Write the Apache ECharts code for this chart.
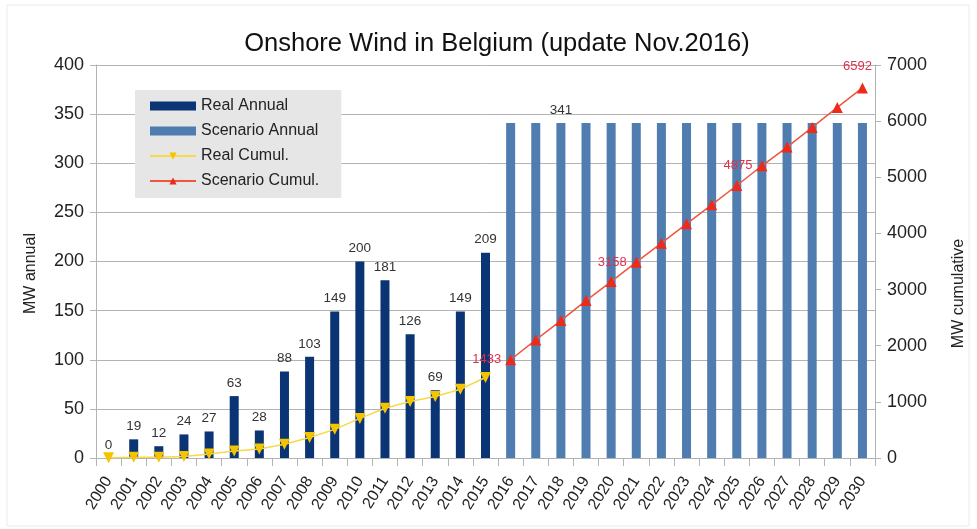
<!DOCTYPE html>
<html>
<head>
<meta charset="utf-8">
<script src="https://cdn.jsdelivr.net/npm/echarts@6/dist/echarts.min.js"></script>
<style>
  html, body { margin: 0; padding: 0; background: #fff; }
  #chart { width: 977px; height: 529px; }
</style>
</head>
<body>
<div id="chart"></div>
<script>
// years 2000..2030
var years = ['2000','2001','2002','2003','2004','2005','2006','2007','2008','2009','2010',
  '2011','2012','2013','2014','2015','2016','2017','2018','2019','2020',
  '2021','2022','2023','2024','2025','2026','2027','2028','2029','2030'];

// MW installed per year (left axis)
var realAnnual = [0, 19, 12, 24, 27, 63, 28, 88, 103, 149, 200, 181, 126, 69, 149, 209];
var scenarioAnnual = [341, 341, 341, 341, 341, 341, 341, 341, 341, 341, 341, 341, 341, 341, 341];

// MW cumulative (right axis)
var realCumul = [5, 12, 15, 25, 70, 125, 160, 245, 365, 510, 705, 885, 1005, 1095, 1225, 1433];
var scenarioCumul = [1750, 2103, 2447, 2804, 3143, 3488, 3827, 4171, 4510, 4854, 5205, 5538, 5888, 6244, 6592];

// data labels as printed in the picture
var scenarioLabelText = { '2016': '1433', '2021': '3158', '2026': '4875', '2030': '6592' };
var scenarioAnnualLabelYear = '2018';

var leftTicks = { min: 0, max: 400, step: 50 };
var rightTicks = { min: 0, max: 7000, step: 1000 };

function pad(arr, before, total) {
  var out = [];
  for (var i = 0; i < total; i++) {
    var j = i - before;
    out.push(j >= 0 && j < arr.length ? arr[j] : null);
  }
  return out;
}

var n = years.length;
var realAnnualData = pad(realAnnual, 0, n);
var scenAnnualData = pad(scenarioAnnual, 16, n);
var realCumulData = pad(realCumul, 0, n);
var scenCumulData = pad(scenarioCumul, 16, n).map(function (v, i) {
  if (v === null) return null;
  var txt = scenarioLabelText[years[i]];
  if (!txt) return v;
  return {
    value: v,
    label: {
      show: true,
      formatter: txt,
      position: years[i] === '2030' ? [-14, -22] : 'left',
      distance: 4
    }
  };
});

var font = 'Liberation Sans, Arial, sans-serif';
var chart = echarts.init(document.getElementById('chart'));

chart.setOption({
  backgroundColor: '#fff',
  animation: false,
  title: {
    text: 'Onshore Wind in Belgium (update Nov.2016)',
    left: 492, top: 26, textAlign: 'center',
    textStyle: { fontFamily: font, fontSize: 25.5, fontWeight: 'normal', color: '#111' }
  },
  graphic: [{
    type: 'rect', silent: true, z: -10,
    shape: { x: 7, y: 5, width: 962, height: 521 },
    style: { fill: 'none', stroke: '#ebebeb', lineWidth: 1 }
  }],
  legend: {
    left: 135, top: 90,
    orient: 'vertical',
    backgroundColor: '#e6e6e6',
    padding: [8, 22, 9, 14],
    itemGap: 9,
    itemWidth: 46, itemHeight: 9,
    textStyle: { fontFamily: font, fontSize: 16, color: '#222' },
    data: [
      { name: 'Real Annual', icon: 'rect' },
      { name: 'Scenario Annual', icon: 'rect' },
      { name: 'Real Cumul.' },
      { name: 'Scenario Cumul.' }
    ]
  },
  grid: { left: 96, right: 102, top: 65, bottom: 71 },
  xAxis: {
    type: 'category',
    data: years,
    boundaryGap: true,
    axisLine: { lineStyle: { color: '#b3b3b3' } },
    axisTick: { show: true, length: 8, lineStyle: { color: '#b3b3b3' } },
    axisLabel: {
      rotate: 58, interval: 0, margin: 20,
      fontFamily: font, fontSize: 16, color: '#222'
    },
    splitLine: { show: false }
  },
  yAxis: [{
    type: 'value',
    name: 'MW annual',
    nameLocation: 'middle',
    nameGap: 57,
    nameTextStyle: { fontFamily: font, fontSize: 16, color: '#222', padding: [0, 0, 0, -24] },
    min: leftTicks.min, max: leftTicks.max, interval: leftTicks.step,
    axisLine: { show: true, lineStyle: { color: '#b3b3b3' } },
    axisTick: { show: true, length: 6, lineStyle: { color: '#b3b3b3' } },
    axisLabel: { fontFamily: font, fontSize: 18, color: '#222', margin: 12 },
    splitLine: { show: true, lineStyle: { color: '#b3b3b3' } }
  }, {
    type: 'value',
    name: 'MW cumulative',
    nameLocation: 'middle',
    nameGap: 76,
    nameRotate: 90,
    nameTextStyle: { fontFamily: font, fontSize: 16, color: '#222', padding: [0, 0, 0, -64] },
    min: rightTicks.min, max: rightTicks.max, interval: rightTicks.step,
    axisLine: { show: true, lineStyle: { color: '#b3b3b3' } },
    axisTick: { show: true, length: 6, lineStyle: { color: '#b3b3b3' } },
    axisLabel: {
      fontFamily: font, fontSize: 18, color: '#222', margin: 12,
      formatter: function (v) { return String(v); }
    },
    splitLine: { show: false }
  }],
  series: [{
    name: 'Real Annual',
    type: 'bar',
    data: realAnnualData,
    barWidth: 9,
    barGap: '-100%',
    itemStyle: { color: '#0b3474' },
    label: {
      show: true, position: 'top', distance: 6,
      fontFamily: font, fontSize: 13.5, color: '#333'
    }
  }, {
    name: 'Scenario Annual',
    type: 'bar',
    data: scenAnnualData,
    barWidth: 9,
    barGap: '-100%',
    itemStyle: { color: '#4f7db0' },
    label: {
      show: true, position: 'top', distance: 6,
      fontFamily: font, fontSize: 13.5, color: '#333',
      formatter: function (p) { return p.name === scenarioAnnualLabelYear ? p.value : ''; }
    }
  }, {
    name: 'Real Cumul.',
    type: 'line',
    yAxisIndex: 1,
    data: realCumulData,
    symbol: 'triangle',
    symbolRotate: 180,
    symbolSize: 11,
    itemStyle: { color: '#f5c400' },
    lineStyle: { color: '#f7d94a', width: 1.5 },
    z: 5
  }, {
    name: 'Scenario Cumul.',
    type: 'line',
    yAxisIndex: 1,
    data: scenCumulData,
    symbol: 'triangle',
    symbolSize: 11,
    itemStyle: { color: '#ee2a1a' },
    lineStyle: { color: '#f0553f', width: 1.5 },
    label: {
      show: false,
      fontFamily: font, fontSize: 13, color: '#e0304a'
    },
    z: 6
  }]
});
</script>
</body>
</html>
